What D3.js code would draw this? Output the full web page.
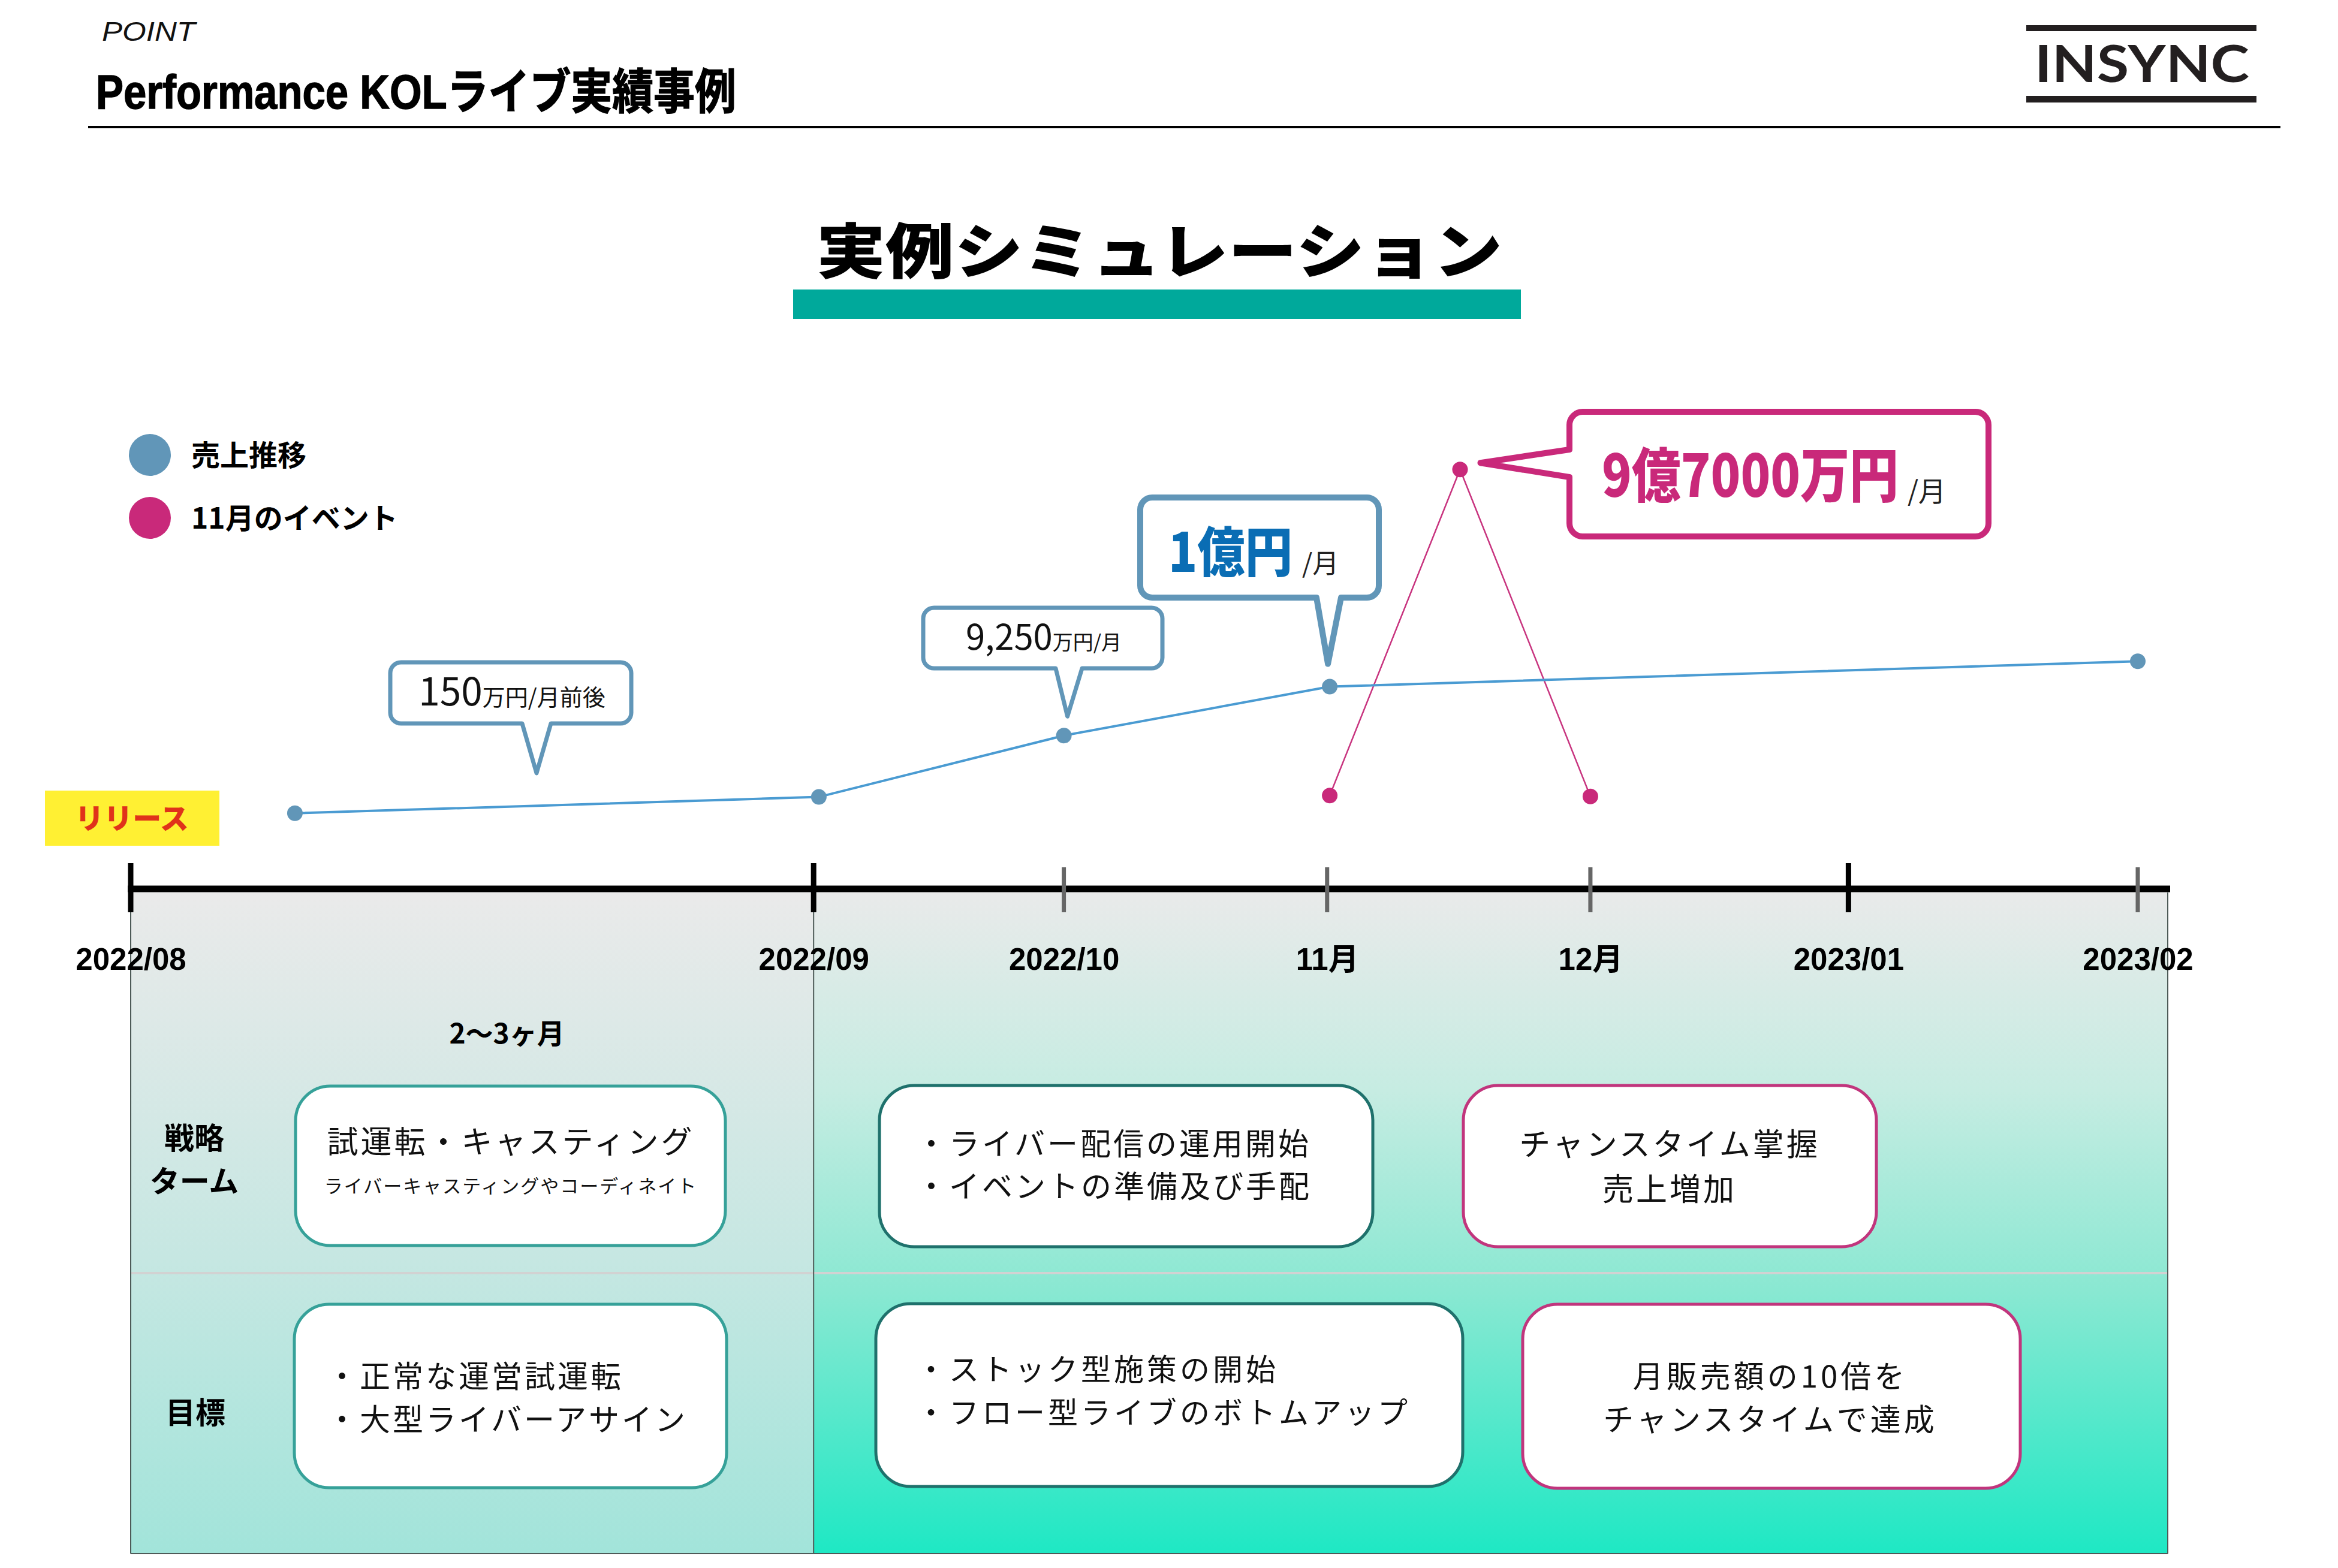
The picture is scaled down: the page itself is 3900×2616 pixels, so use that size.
<!DOCTYPE html>
<html>
<head>
<meta charset="utf-8">
<script src="https://cdn.jsdelivr.net/npm/d3@7"></script>
<style>
  body { margin: 0; background: #fff; }
  svg { display: block; }
</style>
</head>
<body>
<script>
// ---- data ----
var tickLabels = ['2022/08', '2022/09', '2022/10', '11月', '12月', '2023/01', '2023/02'];
var tickMonths = [0, 2.62, 3.58, 4.59, 5.6, 6.59, 7.7];   // months from release (first span is 2〜3ヶ月)
var majorTicks = ['2022/08', '2022/09', '2023/01'];

var salesMonths = [0.63, 2.64, 3.58, 4.6, 7.7];
var salesLevels = [15.4, 18.8, 31.6, 41.8, 47.1];          // relative level, not to scale
var eventMonths = [4.6, 5.1, 5.6];
var eventLevels = [19.1, 87.1, 18.9];

var legendLabels = ['売上推移', '11月のイベント'];
var calloutSmall = [['150', '万円/月前後'], ['9,250', '万円/月']];
var calloutBig = [['1億円', '/月'], ['9億7000万円', '/月']];

var rowLabels = [['戦略', 'ターム'], ['目標']];
var strategyTexts = [
  ['試運転・キャスティング', 'ライバーキャスティングやコーディネイト'],
  ['・ライバー配信の運用開始', '・イベントの準備及び手配'],
  ['チャンスタイム掌握', '売上増加']
];
var goalTexts = [
  ['・正常な運営試運転', '・大型ライバーアサイン'],
  ['・ストック型施策の開始', '・フロー型ライブのボトムアップ'],
  ['月販売額の10倍を', 'チャンスタイムで達成']
];

// ---- setup ----
var W = 3900, H = 2616;
var JP = "'Noto Sans CJK JP', 'Noto Sans', sans-serif";
var LAT = "'Liberation Sans', 'Noto Sans CJK JP', sans-serif";
var BLUE = '#6196b8', PINK = '#c9297a';

var svg = d3.select('body').append('svg')
  .attr('width', W)
  .attr('height', H);

var x = d3.scaleLinear().domain(d3.extent(tickMonths)).range([218, 3566]);
var y = d3.scaleLinear().domain([0, 100]).range([1480, 680]);

var axisY = 1483;
var areaTop = 1489, areaBottom = 2592, rowSplit = 2124, areaRight = 3616;

// squeeze a text horizontally to a given width (keeps its real bbox)
function fitWidth(sel, px, py, width) {
  var w = sel.node().getComputedTextLength();
  sel.attr('x', 0).attr('y', 0)
    .attr('transform', 'translate(' + px + ',' + py + ') scale(' + (width / w) + ',1)');
}

// gradients
var defs = svg.append('defs');
function grad(id, stops) {
  var g = defs.append('linearGradient').attr('id', id)
    .attr('x1', 0).attr('y1', 0).attr('x2', 0).attr('y2', 1);
  stops.forEach(function(s) {
    g.append('stop').attr('offset', s[0]).attr('stop-color', s[1]);
  });
}
grad('gLeft', [[0, '#eaeaea'], [0.55, '#c6e7e2'], [1, '#a2e4da']]);
grad('gRight', [[0, '#e9eaea'], [0.3, '#c6ece2'], [0.6, '#8ae8d2'], [1, '#1ee8c4']]);

// ---- header ----
svg.append('text')
  .attr('x', 170).attr('y', 68)
  .attr('font-family', LAT).attr('font-style', 'italic')
  .attr('font-size', 44)
  .attr('textLength', 156).attr('lengthAdjust', 'spacingAndGlyphs')
  .attr('fill', '#111')
  .text('POINT');

var title = svg.append('text')
  .attr('font-family', LAT).attr('font-weight', 700)
  .attr('font-size', 80)
  .attr('fill', '#000')
  .attr('stroke', '#000').attr('stroke-width', 1.5)
  .text('Performance KOLライブ実績事例');
fitWidth(title, 160, 181, 1068);

svg.append('line')
  .attr('x1', 147).attr('x2', 3804).attr('y1', 212).attr('y2', 212)
  .attr('stroke', '#000').attr('stroke-width', 4);

// logo
var logo = svg.append('g');
logo.append('rect').attr('x', 3380).attr('y', 42).attr('width', 384).attr('height', 10).attr('fill', '#231f20');
logo.append('rect').attr('x', 3380).attr('y', 160).attr('width', 384).attr('height', 11).attr('fill', '#231f20');
logo.append('text')
  .attr('x', 3394).attr('y', 137)
  .attr('font-family', "'Lato', 'Open Sans', sans-serif").attr('font-weight', 700)
  .attr('font-size', 86)
  .attr('textLength', 358).attr('lengthAdjust', 'spacingAndGlyphs')
  .attr('fill', '#231f20')
  .text('INSYNC');

// section title
svg.append('text')
  .attr('x', 1362).attr('y', 456)
  .attr('font-family', JP).attr('font-weight', 900)
  .attr('font-size', 100)
  .attr('textLength', 1144).attr('lengthAdjust', 'spacingAndGlyphs')
  .text('実例シミュレーション');

svg.append('rect')
  .attr('x', 1323).attr('y', 483).attr('width', 1214).attr('height', 49)
  .attr('fill', '#00a99b');

// ---- legend ----
var legend = svg.append('g').selectAll('g')
  .data(legendLabels)
  .join('g')
  .attr('transform', function(d, i) { return 'translate(250,' + (759 + i * 105) + ')'; });
legend.append('circle').attr('r', 35).attr('fill', function(d, i) { return i ? PINK : BLUE; });
legend.append('text')
  .attr('x', 69).attr('y', 18)
  .attr('font-family', JP).attr('font-weight', 700).attr('font-size', 48)
  .text(function(d) { return d; });

// ---- background phases ----
svg.append('rect')
  .attr('x', x(tickMonths[0])).attr('y', areaTop)
  .attr('width', x(tickMonths[1]) - x(tickMonths[0])).attr('height', areaBottom - areaTop)
  .attr('fill', 'url(#gLeft)');
svg.append('rect')
  .attr('x', x(tickMonths[1])).attr('y', areaTop)
  .attr('width', areaRight - x(tickMonths[1])).attr('height', areaBottom - areaTop)
  .attr('fill', 'url(#gRight)');

svg.append('line')
  .attr('x1', x(tickMonths[0])).attr('x2', areaRight).attr('y1', rowSplit).attr('y2', rowSplit)
  .attr('stroke', '#d2d2d2').attr('stroke-width', 4);

var borders = [
  [x(tickMonths[0]), areaTop, x(tickMonths[0]), areaBottom],
  [x(tickMonths[1]), areaTop, x(tickMonths[1]), areaBottom],
  [areaRight, areaTop, areaRight, areaBottom],
  [x(tickMonths[0]), areaBottom, areaRight, areaBottom]
];
svg.append('g').selectAll('line')
  .data(borders)
  .join('line')
  .attr('x1', function(d) { return d[0]; }).attr('y1', function(d) { return d[1]; })
  .attr('x2', function(d) { return d[2]; }).attr('y2', function(d) { return d[3]; })
  .attr('stroke', '#4d5a57').attr('stroke-width', 2);

// ---- time axis ----
var axis = svg.append('g')
  .attr('transform', 'translate(0,' + axisY + ')')
  .call(d3.axisBottom(x)
    .tickValues(tickMonths)
    .tickFormat(function(d, i) { return tickLabels[i]; })
    .tickSize(0)
    .tickPadding(99));
axis.select('.domain').remove();
axis.selectAll('text')
  .attr('font-family', LAT).attr('font-weight', 700)
  .attr('font-size', 51).attr('fill', '#000');

svg.append('line')
  .attr('x1', x.range()[0] - 5).attr('x2', 3620)
  .attr('y1', axisY).attr('y2', axisY)
  .attr('stroke', '#000').attr('stroke-width', 11);

svg.append('g').selectAll('line')
  .data(tickMonths)
  .join('line')
  .attr('x1', function(d) { return x(d); }).attr('x2', function(d) { return x(d); })
  .attr('y1', function(d, i) { return majorTicks.indexOf(tickLabels[i]) >= 0 ? 1440 : 1447; })
  .attr('y2', 1522)
  .attr('stroke', function(d, i) { return majorTicks.indexOf(tickLabels[i]) >= 0 ? '#000' : '#666'; })
  .attr('stroke-width', function(d, i) { return majorTicks.indexOf(tickLabels[i]) >= 0 ? 9 : 7; });

// release tag
svg.append('rect')
  .attr('x', 75).attr('y', 1319).attr('width', 291).attr('height', 92)
  .attr('fill', '#fff033');
svg.append('text')
  .attr('x', 220).attr('y', 1383)
  .attr('text-anchor', 'middle')
  .attr('font-family', JP).attr('font-weight', 900).attr('font-size', 48)
  .attr('fill', '#e0321a')
  .text('リリース');

// span label
svg.append('text')
  .attr('x', (x(tickMonths[0]) + x(tickMonths[1])) / 2 + 58).attr('y', 1741)
  .attr('text-anchor', 'middle')
  .attr('font-family', JP).attr('font-weight', 700).attr('font-size', 46)
  .text('2〜3ヶ月');

// ---- callouts ----
function calloutPath(b, t) {
  var r = b.r, p = d3.path();
  p.moveTo(b.x0 + r, b.y0);
  p.lineTo(b.x1 - r, b.y0);
  p.arcTo(b.x1, b.y0, b.x1, b.y0 + r, r);
  p.lineTo(b.x1, b.y1 - r);
  p.arcTo(b.x1, b.y1, b.x1 - r, b.y1, r);
  if (t.side === 'bottom') {
    p.lineTo(t.b, b.y1);
    p.lineTo(t.tip[0], t.tip[1]);
    p.lineTo(t.a, b.y1);
  }
  p.lineTo(b.x0 + r, b.y1);
  p.arcTo(b.x0, b.y1, b.x0, b.y1 - r, r);
  if (t.side === 'left') {
    p.lineTo(b.x0, t.b);
    p.lineTo(t.tip[0], t.tip[1]);
    p.lineTo(b.x0, t.a);
  }
  p.lineTo(b.x0, b.y0 + r);
  p.arcTo(b.x0, b.y0, b.x0 + r, b.y0, r);
  p.closePath();
  return p.toString();
}

var c150 = { x0: 651, y0: 1105, x1: 1053, y1: 1207, r: 18 };
var c9250 = { x0: 1540, y0: 1014, x1: 1939, y1: 1115, r: 18 };
var c1oku = { x0: 1902, y0: 830, x1: 2300, y1: 997, r: 20 };
var c97 = { x0: 2618, y0: 687, x1: 3317, y1: 895, r: 22 };

var calloutDefs = [
  { box: c150, tail: { side: 'bottom', a: 871, b: 919, tip: [895, y(salesLevels[0]) - 67] }, color: BLUE, w: 7 },
  { box: c9250, tail: { side: 'bottom', a: 1761, b: 1805, tip: [x(salesMonths[2]) + 6, y(salesLevels[2]) - 32] }, color: BLUE, w: 7 },
  { box: c1oku, tail: { side: 'bottom', a: 2196, b: 2237, tip: [x(salesMonths[3]) - 3, y(salesLevels[3]) - 38] }, color: BLUE, w: 10 },
  { box: c97, tail: { side: 'left', a: 750, b: 796, tip: [x(eventMonths[1]) + 34, y(eventLevels[1]) - 11] }, color: PINK, w: 10 }
];

svg.append('g').selectAll('path')
  .data(calloutDefs)
  .join('path')
  .attr('d', function(d) { return calloutPath(d.box, d.tail); })
  .attr('fill', '#fff')
  .attr('stroke', function(d) { return d.color; })
  .attr('stroke-width', function(d) { return d.w; })
  .attr('stroke-linejoin', 'round');

// small callout texts
var smallPos = [[854, 1177, 64, 38], [1741, 1084, 58, 34]];
calloutSmall.forEach(function(parts, i) {
  var t = svg.append('text')
    .attr('x', smallPos[i][0]).attr('y', smallPos[i][1])
    .attr('text-anchor', 'middle')
    .attr('font-family', JP).attr('font-weight', 400).attr('fill', '#111');
  t.append('tspan').attr('font-size', smallPos[i][2]).text(parts[0]);
  t.append('tspan').attr('font-size', smallPos[i][3]).text(parts[1]);
});

// big callout texts (condensed heavy figures)
var bigPos = [
  { x: 1949, y: 954, size: 90, len: 207, fill: '#0a6db4', ux: 2172, uy: 956, usize: 44 },
  { x: 2672, y: 829, size: 98, len: 495, fill: PINK, ux: 3182, uy: 836, usize: 46 }
];
calloutBig.forEach(function(parts, i) {
  var p = bigPos[i];
  var t = svg.append('text')
    .attr('font-family', JP).attr('font-weight', 900)
    .attr('font-size', p.size).attr('fill', p.fill)
    .text(parts[0]);
  fitWidth(t, p.x, p.y, p.len);
  svg.append('text')
    .attr('x', p.ux).attr('y', p.uy)
    .attr('font-family', JP).attr('font-weight', 400)
    .attr('font-size', p.usize).attr('fill', '#222')
    .text(parts[1]);
});

// ---- lines ----
var sales = d3.zip(salesMonths, salesLevels);
var events = d3.zip(eventMonths, eventLevels);
var line = d3.line()
  .x(function(d) { return x(d[0]); })
  .y(function(d) { return y(d[1]); });

svg.append('path')
  .datum(events)
  .attr('fill', 'none')
  .attr('stroke', '#c8347f')
  .attr('stroke-width', 2.5)
  .attr('d', line);

svg.append('path')
  .datum(sales)
  .attr('fill', 'none')
  .attr('stroke', '#4a9bd2')
  .attr('stroke-width', 4)
  .attr('d', line);

svg.append('g').selectAll('circle')
  .data(sales)
  .join('circle')
  .attr('cx', function(d) { return x(d[0]); })
  .attr('cy', function(d) { return y(d[1]); })
  .attr('r', 13)
  .attr('fill', BLUE);

svg.append('g').selectAll('circle')
  .data(events)
  .join('circle')
  .attr('cx', function(d) { return x(d[0]); })
  .attr('cy', function(d) { return y(d[1]); })
  .attr('r', 13)
  .attr('fill', PINK);

// ---- row labels (one text each, lines as tspans) ----
var rowLabelPos = [[324, 1917], [326, 2375]];
rowLabels.forEach(function(lines, i) {
  svg.append('text')
    .attr('text-anchor', 'middle')
    .attr('font-family', JP).attr('font-weight', 700).attr('font-size', 50)
    .selectAll('tspan')
    .data(lines)
    .join('tspan')
    .attr('x', rowLabelPos[i][0])
    .attr('y', function(d, j) { return rowLabelPos[i][1] + j * 72; })
    .text(function(d) { return d; });
});

// ---- plan boxes ----
var TEAL = '#36a199', DTEAL = '#1f716c', MAG = '#c1357d';
var boxLayout = [
  // strategy row
  { x0: 493, x1: 1210, y0: 1812, y1: 2078, stroke: TEAL, align: 'middle', tx: 852, ys: [1924, 1990], sizes: [52, 31], ls: [4, 2] },
  { x0: 1467, x1: 2290, y0: 1811, y1: 2080, stroke: DTEAL, align: 'start', tx: 1528, ys: [1927, 1998], sizes: [51, 51], ls: [4, 4] },
  { x0: 2441, x1: 3130, y0: 1811, y1: 2080, stroke: MAG, align: 'middle', tx: 2785, ys: [1928, 2003], sizes: [52, 52], ls: [4, 4] },
  // goal row
  { x0: 491, x1: 1212, y0: 2176, y1: 2482, stroke: TEAL, align: 'start', tx: 545, ys: [2315, 2387], sizes: [51, 51], ls: [4, 4] },
  { x0: 1461, x1: 2440, y0: 2175, y1: 2480, stroke: DTEAL, align: 'start', tx: 1528, ys: [2303, 2375], sizes: [50, 50], ls: [5, 5] },
  { x0: 2540, x1: 3370, y0: 2176, y1: 2483, stroke: MAG, align: 'middle', tx: 2953, ys: [2315, 2387], sizes: [51, 51], ls: [5, 5] }
];
var boxTexts = strategyTexts.concat(goalTexts);

var boxes = svg.append('g').selectAll('g')
  .data(boxLayout)
  .join('g');

boxes.append('rect')
  .attr('x', function(d) { return d.x0; })
  .attr('y', function(d) { return d.y0; })
  .attr('width', function(d) { return d.x1 - d.x0; })
  .attr('height', function(d) { return d.y1 - d.y0; })
  .attr('rx', 58).attr('ry', 58)
  .attr('fill', '#fff')
  .attr('stroke', function(d) { return d.stroke; })
  .attr('stroke-width', 5);

boxes.each(function(b, i) {
  d3.select(this).append('text')
    .attr('text-anchor', b.align)
    .attr('font-family', JP).attr('font-weight', 400)
    .attr('fill', '#111')
    .selectAll('tspan')
    .data(boxTexts[i])
    .join('tspan')
    .attr('x', b.tx)
    .attr('y', function(d, j) { return b.ys[j]; })
    .attr('font-size', function(d, j) { return b.sizes[j]; })
    .attr('letter-spacing', function(d, j) { return b.ls[j]; })
    .text(function(d) { return d; });
});
</script>
</body>
</html>
